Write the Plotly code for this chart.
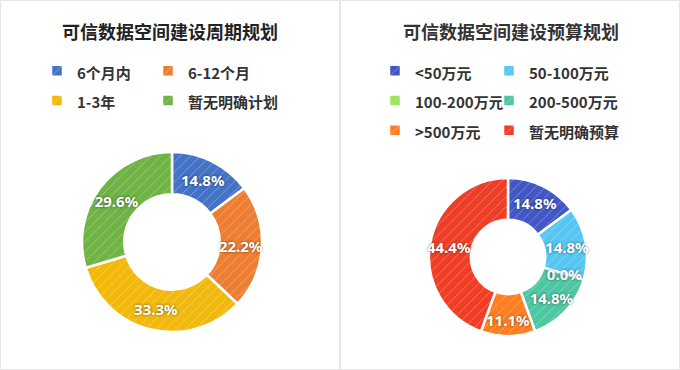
import plotly.graph_objects as go

# ---- data ----
period_labels = ["6个月内", "6-12个月", "1-3年", "暂无明确计划"]
period_values = [14.8, 22.2, 33.3, 29.6]
period_colors = ["#4472C4", "#ED7D31", "#F2B90C", "#6EB343"]

budget_labels = ["<50万元", "50-100万元", "100-200万元", "200-500万元", ">500万元", "暂无明确预算"]
budget_values = [14.8, 14.8, 0.0, 14.8, 11.1, 44.4]
budget_colors = ["#4257C6", "#56C6F3", "#9BE35A", "#4DC7A2", "#FF7E22", "#F03E26"]

title_left = "可信数据空间建设周期规划"
title_right = "可信数据空间建设预算规划"

W, H = 680, 370
ML, MR = 45, 75
GW = W - ML - MR


def px_x(p):
    return (p - ML) / GW


def px_y(p):
    return 1 - p / H


CJK = "Noto Sans CJK SC"
NUM = "Noto Sans, Noto Sans CJK SC"
TPL = "%{percent:.1%}"


def leg_text(lbls):
    return [f'<span style="font-size:15px">{t}</span>' for t in lbls]


def drawable(vals):
    # a zero slice gets a vanishing width so it keeps its place in the ring
    return [v if v > 0 else 1e-9 for v in vals]


def dom(cx, cy, r):
    return dict(x=[px_x(cx - r), px_x(cx + r)], y=[px_y(cy + r), px_y(cy - r)])


pattern = dict(shape="/", fgcolor="white", fgopacity=0.35, size=7,
               solidity=0.12, fillmode="overlay")
label_font = dict(color="white", size=15, family=NUM, weight="bold",
                  shadow="0px 0px 3px rgba(0,0,0,0.55)")

fig = go.Figure()


def donut(labels, values, colors, cx, cy, r, hole, legend):
    fig.add_trace(go.Pie(
        labels=leg_text(labels), values=drawable(values),
        marker=dict(colors=colors, line=dict(color="white", width=2.5), pattern=pattern),
        hole=hole, sort=False, direction="clockwise", rotation=0,
        domain=dom(cx, cy, r), textinfo="none", legend=legend,
    ))


def label_layer(labels, values, cx, cy, r, hole, show):
    # transparent ring on top of the donut that carries the percentage labels
    total = sum(values)
    fig.add_trace(go.Pie(
        labels=leg_text(labels), values=drawable(values),
        marker=dict(colors=["rgba(0,0,0,0)"] * len(values), line=dict(width=0)),
        hole=hole, sort=False, direction="clockwise", rotation=0,
        domain=dom(cx, cy, r), textinfo="none",
        texttemplate=[TPL if show(v / total) else "" for v in values],
        textposition="inside", insidetextorientation="horizontal",
        textfont=label_font, showlegend=False, hoverinfo="skip",
    ))


donut(period_labels, period_values, period_colors, 172, 242, 90, 0.53, "legend")
donut(budget_labels, budget_values, budget_colors, 508, 257, 79, 0.47, "legend2")
label_layer(period_labels, period_values, 172, 242, 98, 0.408, lambda s: s > 0)
label_layer(budget_labels, budget_values, 508, 257, 84.5, 0.42, lambda s: s >= 0.12)
label_layer(budget_labels, budget_values, 508, 257, 74, 0.42, lambda s: 0 < s < 0.12)
label_layer(budget_labels, budget_values, 508, 257, 59, 0.0, lambda s: s == 0)

spacer = "\u00a0" * 35
BW = 24
legend_common = dict(orientation="h", entrywidthmode="pixels",
                     font=dict(size=20.6, family=CJK, color="#333333", weight="bold"),
                     bgcolor="rgba(0,0,0,0)", bordercolor="rgba(0,0,0,0)", borderwidth=BW,
                     itemclick=False, itemdoubleclick=False,
                     title=dict(text=spacer, side="top",
                                font=dict(size=20.6, family="DejaVu Sans")),
                     yanchor="top", traceorder="normal")

fig.update_layout(
    width=W, height=H,
    margin=dict(l=ML, r=MR, t=0, b=0, autoexpand=False),
    paper_bgcolor="white", plot_bgcolor="white",
    showlegend=True,
    uniformtext=dict(minsize=15, mode="show"),
    legend=dict(**legend_common, entrywidth=66, x=px_x(13), xanchor="left", y=px_y(0)),
    legend2=dict(**legend_common, entrywidth=69, x=px_x(654), xanchor="right", y=px_y(0)),
    annotations=[
        dict(text=title_left, x=px_x(170), y=px_y(31), xref="paper", yref="paper",
             xanchor="center", yanchor="middle", showarrow=False,
             font=dict(size=18, family=CJK, color="#222222", weight="bold")),
        dict(text=title_right, x=px_x(511), y=px_y(31), xref="paper", yref="paper",
             xanchor="center", yanchor="middle", showarrow=False,
             font=dict(size=18, family=CJK, color="#333333", weight="bold")),
    ],
    shapes=[
        dict(type="rect", xref="paper", yref="paper", x0=px_x(0.5), x1=px_x(339.5),
             y0=px_y(369.5), y1=px_y(0.5), line=dict(color="#E6E6E6", width=1)),
        dict(type="rect", xref="paper", yref="paper", x0=px_x(340.5), x1=px_x(679.5),
             y0=px_y(369.5), y1=px_y(0.5), line=dict(color="#E6E6E6", width=1)),
    ],
)

fig.write_html("out.html", config={"displayModeBar": False},
               post_script="document.body.style.margin='0';")
